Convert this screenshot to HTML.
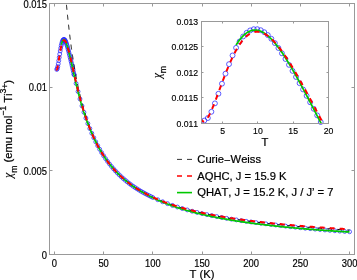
<!DOCTYPE html>
<html><head><meta charset="utf-8"><style>html,body{margin:0;padding:0;background:#fff;width:357px;height:280px;overflow:hidden}svg{display:block;position:absolute;left:0;top:0;will-change:transform}text{font-kerning:none}</style></head>
<body><svg width="357" height="280" viewBox="0 0 357 280"><defs><clipPath id="cm"><rect x="49.5" y="3.5" width="305" height="251"/></clipPath><clipPath id="ci"><rect x="201.5" y="21.5" width="127" height="102"/></clipPath></defs><rect width="357" height="280" fill="#fff"/><g fill="none" stroke="#2626ff" stroke-width="0.75"><circle cx="56.78" cy="69.46" r="1.95"/><circle cx="57.27" cy="68.64" r="1.95"/><circle cx="57.76" cy="66.59" r="1.95"/><circle cx="58.26" cy="63.83" r="1.95"/><circle cx="58.75" cy="60.68" r="1.95"/><circle cx="59.24" cy="57.38" r="1.95"/><circle cx="59.73" cy="54.09" r="1.95"/><circle cx="60.22" cy="50.96" r="1.95"/><circle cx="60.72" cy="48.11" r="1.95"/><circle cx="61.21" cy="45.61" r="1.95"/><circle cx="61.70" cy="43.53" r="1.95"/><circle cx="62.19" cy="41.88" r="1.95"/><circle cx="62.68" cy="40.67" r="1.95"/><circle cx="63.18" cy="39.88" r="1.95"/><circle cx="63.67" cy="39.49" r="1.95"/><circle cx="64.16" cy="39.48" r="1.95"/><circle cx="64.65" cy="39.82" r="1.95"/><circle cx="65.14" cy="40.48" r="1.95"/><circle cx="65.64" cy="41.43" r="1.95"/><circle cx="66.13" cy="42.63" r="1.95"/><circle cx="66.62" cy="44.05" r="1.95"/><circle cx="67.11" cy="45.66" r="1.95"/><circle cx="67.60" cy="47.41" r="1.95"/><circle cx="68.10" cy="49.27" r="1.95"/><circle cx="68.59" cy="51.20" r="1.95"/><circle cx="69.08" cy="53.17" r="1.95"/><circle cx="69.57" cy="55.17" r="1.95"/><circle cx="70.06" cy="57.21" r="1.95"/><circle cx="70.55" cy="59.27" r="1.95"/><circle cx="71.05" cy="61.36" r="1.95"/><circle cx="71.54" cy="63.47" r="1.95"/><circle cx="72.03" cy="65.61" r="1.95"/><circle cx="72.52" cy="67.77" r="1.95"/><circle cx="73.01" cy="69.95" r="1.95"/><circle cx="73.51" cy="72.14" r="1.95"/><circle cx="74.00" cy="74.35" r="1.95"/><circle cx="74.10" cy="74.79" r="1.95"/><circle cx="76.06" cy="83.50" r="1.95"/><circle cx="78.03" cy="91.54" r="1.95"/><circle cx="80.00" cy="99.01" r="1.95"/><circle cx="81.97" cy="105.90" r="1.95"/><circle cx="83.94" cy="112.26" r="1.95"/><circle cx="85.90" cy="118.13" r="1.95"/><circle cx="87.87" cy="123.55" r="1.95"/><circle cx="89.84" cy="128.60" r="1.95"/><circle cx="91.81" cy="133.30" r="1.95"/><circle cx="93.77" cy="137.72" r="1.95"/><circle cx="95.74" cy="141.85" r="1.95"/><circle cx="97.71" cy="145.69" r="1.95"/><circle cx="99.68" cy="149.27" r="1.95"/><circle cx="101.65" cy="152.62" r="1.95"/><circle cx="103.61" cy="155.74" r="1.95"/><circle cx="105.58" cy="158.67" r="1.95"/><circle cx="107.55" cy="161.42" r="1.95"/><circle cx="109.52" cy="164.01" r="1.95"/><circle cx="111.48" cy="166.45" r="1.95"/><circle cx="113.45" cy="168.75" r="1.95"/><circle cx="115.42" cy="170.93" r="1.95"/><circle cx="117.39" cy="173.00" r="1.95"/><circle cx="119.35" cy="174.96" r="1.95"/><circle cx="121.32" cy="176.81" r="1.95"/><circle cx="123.29" cy="178.58" r="1.95"/><circle cx="125.26" cy="180.26" r="1.95"/><circle cx="127.23" cy="181.86" r="1.95"/><circle cx="129.19" cy="183.39" r="1.95"/><circle cx="131.16" cy="184.85" r="1.95"/><circle cx="133.13" cy="186.25" r="1.95"/><circle cx="135.10" cy="187.58" r="1.95"/><circle cx="137.06" cy="188.86" r="1.95"/><circle cx="139.03" cy="190.08" r="1.95"/><circle cx="141.00" cy="191.26" r="1.95"/><circle cx="142.97" cy="192.38" r="1.95"/><circle cx="144.94" cy="193.48" r="1.95"/><circle cx="146.90" cy="194.54" r="1.95"/><circle cx="148.87" cy="195.56" r="1.95"/><circle cx="150.84" cy="196.54" r="1.95"/><circle cx="152.81" cy="197.49" r="1.95"/><circle cx="157.73" cy="199.72" r="1.95"/><circle cx="162.65" cy="201.76" r="1.95"/><circle cx="167.56" cy="203.65" r="1.95"/><circle cx="172.48" cy="205.40" r="1.95"/><circle cx="177.40" cy="207.02" r="1.95"/><circle cx="182.32" cy="208.53" r="1.95"/><circle cx="187.24" cy="209.91" r="1.95"/><circle cx="192.16" cy="211.21" r="1.95"/><circle cx="197.08" cy="212.42" r="1.95"/><circle cx="202.00" cy="213.56" r="1.95"/><circle cx="206.92" cy="214.63" r="1.95"/><circle cx="211.84" cy="215.63" r="1.95"/><circle cx="216.76" cy="216.58" r="1.95"/><circle cx="221.68" cy="217.48" r="1.95"/><circle cx="226.60" cy="218.33" r="1.95"/><circle cx="231.52" cy="219.14" r="1.95"/><circle cx="236.44" cy="219.91" r="1.95"/><circle cx="241.35" cy="220.64" r="1.95"/><circle cx="246.27" cy="221.33" r="1.95"/><circle cx="251.19" cy="222.00" r="1.95"/><circle cx="256.11" cy="222.63" r="1.95"/><circle cx="261.03" cy="223.24" r="1.95"/><circle cx="265.95" cy="223.84" r="1.95"/><circle cx="270.87" cy="224.43" r="1.95"/><circle cx="275.79" cy="225.01" r="1.95"/><circle cx="280.71" cy="225.57" r="1.95"/><circle cx="285.63" cy="226.12" r="1.95"/><circle cx="290.55" cy="226.66" r="1.95"/><circle cx="295.47" cy="227.19" r="1.95"/><circle cx="300.39" cy="227.70" r="1.95"/><circle cx="305.31" cy="228.20" r="1.95"/><circle cx="310.23" cy="228.67" r="1.95"/><circle cx="315.15" cy="229.12" r="1.95"/><circle cx="320.06" cy="229.55" r="1.95"/><circle cx="324.98" cy="229.96" r="1.95"/><circle cx="329.90" cy="230.36" r="1.95"/><circle cx="334.82" cy="230.73" r="1.95"/><circle cx="339.74" cy="231.09" r="1.95"/><circle cx="344.66" cy="231.42" r="1.95"/><circle cx="349.58" cy="231.73" r="1.95"/></g><g clip-path="url(#cm)"><path d="M59.34,-103.85 L59.40,-102.50 L59.46,-101.15 L59.52,-99.81 L59.59,-98.49 L59.65,-97.17 L59.71,-95.87 L59.77,-94.57 L59.83,-93.28 L59.89,-92.01 L59.96,-90.74 L60.02,-89.48 L60.08,-88.23 L60.14,-86.99 L60.20,-85.76 L60.26,-84.54 L60.33,-83.33 L60.39,-82.13 L60.45,-80.93 L60.51,-79.75 L60.57,-78.57 L60.63,-77.40 L60.69,-76.24 L60.76,-75.09 L60.82,-73.94 L60.88,-72.80 L60.94,-71.68 L61.00,-70.56 L61.06,-69.44 L61.13,-68.34 L61.19,-67.24 L61.25,-66.15 L61.31,-65.07 L61.37,-63.99 L61.43,-62.93 L61.50,-61.87 L61.56,-60.81 L61.62,-59.77 L61.68,-58.73 L61.74,-57.70 L61.80,-56.67 L61.87,-55.65 L61.93,-54.64 L61.99,-53.64 L62.05,-52.64 L62.11,-51.65 L62.17,-50.66 L62.24,-49.68 L62.30,-48.71 L62.36,-47.75 L62.42,-46.79 L62.48,-45.83 L62.54,-44.88 L62.61,-43.94 L62.67,-43.01 L62.73,-42.08 L62.79,-41.16 L62.85,-40.24 L62.91,-39.33 L62.98,-38.42 L63.04,-37.52 L63.10,-36.63 L63.16,-35.74 L63.22,-34.85 L63.28,-33.98 L63.35,-33.10 L63.41,-32.24 L63.47,-31.37 L63.53,-30.52 L63.59,-29.67 L63.65,-28.82 L63.72,-27.98 L63.78,-27.14 L63.84,-26.31 L63.90,-25.49 L63.96,-24.66 L64.02,-23.85 L64.09,-23.04 L64.15,-22.23 L64.21,-21.43 L64.27,-20.63 L64.33,-19.84 L64.39,-19.05 L64.46,-18.27 L64.52,-17.49 L64.58,-16.72 L64.64,-15.95 L64.70,-15.18 L64.76,-14.42 L64.83,-13.67 L64.89,-12.91 L64.95,-12.17 L65.01,-11.42 L65.07,-10.68 L65.13,-9.95 L65.20,-9.22 L65.26,-8.49 L65.32,-7.77 L65.38,-7.05 L65.44,-6.34 L65.50,-5.63 L65.56,-4.92 L65.63,-4.22 L65.69,-3.52 L65.75,-2.82 L65.81,-2.13 L65.87,-1.45 L65.93,-0.76 L66.00,-0.08 L66.06,0.59 L66.12,1.27 L66.18,1.93 L66.24,2.60 L66.30,3.26 L66.37,3.92 L66.43,4.57 L66.49,5.22 L66.55,5.87 L66.61,6.52 L66.67,7.16 L66.74,7.79 L66.80,8.43 L66.86,9.06 L66.92,9.69 L66.98,10.31 L67.04,10.93 L67.11,11.55 L67.17,12.16 L67.23,12.77 L67.29,13.38 L67.35,13.99 L67.41,14.59 L67.48,15.19 L67.54,15.78 L67.60,16.37 L67.66,16.96 L67.72,17.55 L67.78,18.13 L67.85,18.72 L67.91,19.29 L67.97,19.87 L68.03,20.44 L68.09,21.01 L68.15,21.58 L68.22,22.14 L68.28,22.70 L68.34,23.26 L68.40,23.81 L68.46,24.37 L68.52,24.91 L68.59,25.46 L68.65,26.01 L68.71,26.55 L68.77,27.09 L68.83,27.62 L68.89,28.16 L68.96,28.69 L69.02,29.22 L69.08,29.74 L69.14,30.27 L69.20,30.79 L69.26,31.31 L69.33,31.82 L69.39,32.34 L69.45,32.85 L69.51,33.36 L69.57,33.86 L69.63,34.37 L69.70,34.87 L69.76,35.37 L69.82,35.87 L69.88,36.36 L69.94,36.85 L70.00,37.34 L70.07,37.83 L70.13,38.32 L70.19,38.80 L70.25,39.28 L70.31,39.76 L70.37,40.24 L70.43,40.71 L70.50,41.19 L70.56,41.66 L70.62,42.13 L70.68,42.59 L70.74,43.06 L70.80,43.52 L70.87,43.98 L70.93,44.44 L70.99,44.89 L71.05,45.34 L71.11,45.80 L71.17,46.25 L71.24,46.69 L71.30,47.14 L71.36,47.58 L71.42,48.03 L71.48,48.47 L71.54,48.90 L71.61,49.34 L71.67,49.77 L71.73,50.21 L71.79,50.64 L71.85,51.06 L71.91,51.49 L71.98,51.92 L72.04,52.34 L72.10,52.76 L72.16,53.18 L72.22,53.60 L72.28,54.01 L72.35,54.43 L72.41,54.84 L72.47,55.25 L72.53,55.66 L72.59,56.07 L72.65,56.47 L72.72,56.88 L72.78,57.28 L72.84,57.68 L72.90,58.08 L72.96,58.47 L73.02,58.87 L73.09,59.26 L73.15,59.65 L73.21,60.04 L73.27,60.43 L73.33,60.82 L73.39,61.21 L73.46,61.59 L73.52,61.97 L73.58,62.35 L73.64,62.73 L73.70,63.11 L73.76,63.49 L73.83,63.86 L73.89,64.24 L73.95,64.61 L74.01,64.98 L74.07,65.35 L74.13,65.71 L74.20,66.08 L74.26,66.44 L74.32,66.81 L74.38,67.17 L74.44,67.53 L74.50,67.89 L74.57,68.24 L74.63,68.60 L74.69,68.95 L74.75,69.31 L74.81,69.66 L74.87,70.01 L74.94,70.36 L75.00,70.70 L75.06,71.05 L75.12,71.40 L75.18,71.74 L75.24,72.08 L75.31,72.42 L75.37,72.76 L75.43,73.10 L75.49,73.44 L75.55,73.77 L75.61,74.11 L75.67,74.44 L75.74,74.77 L75.80,75.10 L75.86,75.43 L75.92,75.76 L75.98,76.09 L76.04,76.41 L76.11,76.73 L76.17,77.06 L76.23,77.38 L76.29,77.70 L76.35,78.02 L76.41,78.34 L76.48,78.66 L76.54,78.97 L76.60,79.29 L76.66,79.60 L76.72,79.91 L76.78,80.22 L76.85,80.53 L76.91,80.84 L76.97,81.15 L77.03,81.46 L77.09,81.76 L77.15,82.07 L77.22,82.37 L77.28,82.67 L77.34,82.97 L77.40,83.27 L77.46,83.57 L77.52,83.87 L77.59,84.17 L77.65,84.46 L77.71,84.76 L77.77,85.05 L77.83,85.34 L77.89,85.63 L77.96,85.93 L78.02,86.21 L78.08,86.50 L78.14,86.79 L78.20,87.08 L78.26,87.36 L78.33,87.65 L78.39,87.93 L78.45,88.21 L78.51,88.49 L78.57,88.77 L78.63,89.05 L78.70,89.33 L78.76,89.61 L78.82,89.89 L78.88,90.16 L78.94,90.44 L79.00,90.71 L79.07,90.98 L79.13,91.25 L79.19,91.52 L79.25,91.79 L79.31,92.06 L79.37,92.33 L79.44,92.60 L79.50,92.86 L79.56,93.13 L79.62,93.39 L79.68,93.66 L79.74,93.92 L79.81,94.18 L79.87,94.44 L79.93,94.70 L79.99,94.96 L80.05,95.22 L80.11,95.48 L80.18,95.73 L80.24,95.99 L80.30,96.24 L80.36,96.50 L80.42,96.75 L80.48,97.00 L80.54,97.25 L80.61,97.51 L80.67,97.76 L80.73,98.00 L80.79,98.25 L80.85,98.50 L80.91,98.75 L80.98,98.99 L81.04,99.24 L81.10,99.48 L81.16,99.72 L81.22,99.97 L81.28,100.21 L81.35,100.45 L81.41,100.69 L81.47,100.93 L81.53,101.17 L81.59,101.40 L81.65,101.64 L81.72,101.88 L81.78,102.11 L81.84,102.35 L81.90,102.58 L81.96,102.81 L82.02,103.05 L82.09,103.28 L82.15,103.51 L82.21,103.74 L82.27,103.97 L82.33,104.20 L82.39,104.43 L82.46,104.65 L82.52,104.88 L82.58,105.11 L82.64,105.33 L82.70,105.56 L82.76,105.78 L82.83,106.00 L82.89,106.23 L82.95,106.45 L83.01,106.67 L83.07,106.89 L83.13,107.11 L83.20,107.33 L83.26,107.55 L83.32,107.76 L83.38,107.98 L83.44,108.20 L83.50,108.41 L83.57,108.63 L83.63,108.84 L83.69,109.05 L83.75,109.27 L83.81,109.48 L83.87,109.69 L83.94,109.90 L83.94,109.90 L84.82,112.88 L85.71,115.72 L86.60,118.45 L87.49,121.07 L88.38,123.59 L89.27,126.01 L90.15,128.34 L91.04,130.58 L91.93,132.74 L92.82,134.82 L93.71,136.82 L94.60,138.76 L95.49,140.63 L96.37,142.44 L97.26,144.19 L98.15,145.88 L99.04,147.52 L99.93,149.11 L100.82,150.65 L101.70,152.14 L102.59,153.58 L103.48,154.99 L104.37,156.35 L105.26,157.67 L106.15,158.96 L107.04,160.21 L107.92,161.43 L108.81,162.61 L109.70,163.76 L110.59,164.88 L111.48,165.97 L112.37,167.03 L113.25,168.07 L114.14,169.08 L115.03,170.07 L115.92,171.03 L116.81,171.96 L117.70,172.88 L118.58,173.77 L119.47,174.65 L120.36,175.50 L121.25,176.33 L122.14,177.15 L123.03,177.94 L123.92,178.72 L124.80,179.48 L125.69,180.23 L126.58,180.96 L127.47,181.67 L128.36,182.37 L129.25,183.05 L130.13,183.72 L131.02,184.38 L131.91,185.02 L132.80,185.66 L133.69,186.27 L134.58,186.88 L135.47,187.48 L136.35,188.06 L137.24,188.63 L138.13,189.19 L139.02,189.74 L139.91,190.28 L140.80,190.82 L141.68,191.34 L142.57,191.85 L143.46,192.35 L144.35,192.85 L145.24,193.33 L146.13,193.81 L147.02,194.28 L147.90,194.74 L148.79,195.19 L149.68,195.64 L150.57,196.08 L151.46,196.51 L152.35,196.93 L153.23,197.35 L154.12,197.76 L155.01,198.16 L155.90,198.56 L156.79,198.95 L157.68,199.34 L158.56,199.72 L159.45,200.09 L160.34,200.46 L161.23,200.82 L162.12,201.18 L163.01,201.53 L163.90,201.88 L164.78,202.22 L165.67,202.55 L166.56,202.88 L167.45,203.21 L168.34,203.53 L169.23,203.85 L170.11,204.16 L171.00,204.47 L171.89,204.78 L172.78,205.08 L173.67,205.37 L174.56,205.67 L175.45,205.95 L176.33,206.24 L177.22,206.52 L178.11,206.80 L179.00,207.07 L179.89,207.34 L180.78,207.61 L181.66,207.87 L182.55,208.13 L183.44,208.38 L184.33,208.64 L185.22,208.89 L186.11,209.13 L187.00,209.38 L187.88,209.62 L188.77,209.86 L189.66,210.09 L190.55,210.32 L191.44,210.55 L192.33,210.78 L193.21,211.00 L194.10,211.22 L194.99,211.44 L195.88,211.66 L196.77,211.87 L197.66,212.08 L198.54,212.29 L199.43,212.50 L200.32,212.70 L201.21,212.90 L202.10,213.10 L202.99,213.30 L203.88,213.49 L204.76,213.69 L205.65,213.88 L206.54,214.07 L207.43,214.25 L208.32,214.44 L209.21,214.62 L210.09,214.80 L210.98,214.98 L211.87,215.16 L212.76,215.33 L213.65,215.50 L214.54,215.67 L215.43,215.84 L216.31,216.01 L217.20,216.18 L218.09,216.34 L218.98,216.51 L219.87,216.67 L220.76,216.83 L221.64,216.98 L222.53,217.14 L223.42,217.30 L224.31,217.45 L225.20,217.60 L226.09,217.75 L226.98,217.90 L227.86,218.05 L228.75,218.19 L229.64,218.34 L230.53,218.48 L231.42,218.62 L232.31,218.76 L233.19,218.90 L234.08,219.04 L234.97,219.18 L235.86,219.31 L236.75,219.45 L237.64,219.58 L238.52,219.71 L239.41,219.84 L240.30,219.97 L241.19,220.10 L242.08,220.23 L242.97,220.35 L243.86,220.48 L244.74,220.60 L245.63,220.72 L246.52,220.85 L247.41,220.97 L248.30,221.09 L249.19,221.20 L250.07,221.32 L250.96,221.44 L251.85,221.55 L252.74,221.67 L253.63,221.78 L254.52,221.89 L255.41,222.00 L256.29,222.12 L257.18,222.23 L258.07,222.33 L258.96,222.44 L259.85,222.55 L260.74,222.66 L261.62,222.76 L262.51,222.86 L263.40,222.97 L264.29,223.07 L265.18,223.17 L266.07,223.27 L266.96,223.37 L267.84,223.47 L268.73,223.57 L269.62,223.67 L270.51,223.77 L271.40,223.86 L272.29,223.96 L273.17,224.05 L274.06,224.15 L274.95,224.24 L275.84,224.34 L276.73,224.43 L277.62,224.52 L278.51,224.61 L279.39,224.70 L280.28,224.79 L281.17,224.88 L282.06,224.97 L282.95,225.05 L283.84,225.14 L284.72,225.23 L285.61,225.31 L286.50,225.40 L287.39,225.48 L288.28,225.56 L289.17,225.65 L290.05,225.73 L290.94,225.81 L291.83,225.89 L292.72,225.97 L293.61,226.05 L294.50,226.13 L295.39,226.21 L296.27,226.29 L297.16,226.37 L298.05,226.44 L298.94,226.52 L299.83,226.60 L300.72,226.67 L301.60,226.75 L302.49,226.82 L303.38,226.90 L304.27,226.97 L305.16,227.04 L306.05,227.12 L306.94,227.19 L307.82,227.26 L308.71,227.33 L309.60,227.40 L310.49,227.47 L311.38,227.54 L312.27,227.61 L313.15,227.68 L314.04,227.75 L314.93,227.82 L315.82,227.88 L316.71,227.95 L317.60,228.02 L318.49,228.08 L319.37,228.15 L320.26,228.21 L321.15,228.28 L322.04,228.34 L322.93,228.41 L323.82,228.47 L324.70,228.53 L325.59,228.60 L326.48,228.66 L327.37,228.72 L328.26,228.78 L329.15,228.85 L330.03,228.91 L330.92,228.97 L331.81,229.03 L332.70,229.09 L333.59,229.15 L334.48,229.21 L335.37,229.26 L336.25,229.32 L337.14,229.38 L338.03,229.44 L338.92,229.50 L339.81,229.55 L340.70,229.61 L341.58,229.67 L342.47,229.72 L343.36,229.78 L344.25,229.83 L345.14,229.89 L346.03,229.94 L346.92,230.00 L347.80,230.05 L348.69,230.10 L349.58,230.16" fill="none" stroke="#000" stroke-width="1.0" stroke-dasharray="5,5" stroke-dashoffset="1.1"/><path d="M61.21,44.68 L61.28,44.40 L61.36,44.13 L61.44,43.87 L61.51,43.61 L61.59,43.36 L61.66,43.12 L61.74,42.89 L61.82,42.67 L61.89,42.46 L61.97,42.25 L62.04,42.05 L62.12,41.86 L62.20,41.68 L62.27,41.51 L62.35,41.34 L62.42,41.19 L62.50,41.04 L62.58,40.90 L62.65,40.77 L62.73,40.64 L62.80,40.53 L62.88,40.42 L62.96,40.32 L63.03,40.24 L63.11,40.15 L63.18,40.08 L63.26,40.01 L63.34,39.96 L63.41,39.91 L63.49,39.87 L63.56,39.83 L63.64,39.81 L63.72,39.79 L63.79,39.78 L63.87,39.78 L63.94,39.78 L64.02,39.79 L64.10,39.81 L64.17,39.84 L64.25,39.87 L64.32,39.91 L64.40,39.96 L64.48,40.02 L64.55,40.08 L64.63,40.15 L64.70,40.22 L64.78,40.30 L64.86,40.39 L64.93,40.49 L65.01,40.59 L65.08,40.69 L65.16,40.81 L65.24,40.93 L65.31,41.05 L65.39,41.18 L65.46,41.32 L65.54,41.46 L65.62,41.61 L65.69,41.76 L65.77,41.92 L65.84,42.09 L65.92,42.26 L66.00,42.43 L66.07,42.61 L66.15,42.80 L66.22,42.98 L66.30,43.18 L66.38,43.38 L66.45,43.58 L66.53,43.79 L66.60,44.00 L66.68,44.21 L66.76,44.43 L66.83,44.66 L66.91,44.89 L66.98,45.12 L67.06,45.36 L67.14,45.60 L67.21,45.84 L67.29,46.09 L67.36,46.34 L67.44,46.59 L67.52,46.85 L67.59,47.11 L67.67,47.37 L67.75,47.64 L67.82,47.91 L67.90,48.18 L67.97,48.46 L68.05,48.73 L68.13,49.02 L68.20,49.30 L68.28,49.59 L68.35,49.87 L68.43,50.17 L68.51,50.46 L68.58,50.76 L68.66,51.05 L68.73,51.35 L68.81,51.66 L68.89,51.96 L68.96,52.27 L69.04,52.58 L69.11,52.89 L69.19,53.20 L69.27,53.51 L69.34,53.83 L69.42,54.14 L69.49,54.46 L69.57,54.78 L69.65,55.11 L69.72,55.43 L69.80,55.75 L69.87,56.08 L69.95,56.41 L70.03,56.73 L70.10,57.06 L70.18,57.39 L70.25,57.73 L70.33,58.06 L70.41,58.39 L70.48,58.73 L70.56,59.06 L70.63,59.40 L70.71,59.74 L70.79,60.07 L70.86,60.41 L70.94,60.75 L71.01,61.09 L71.09,61.43 L71.17,61.77 L71.24,62.12 L71.32,62.46 L71.39,62.80 L71.47,63.14 L71.55,63.49 L71.62,63.83 L71.70,64.18 L71.77,64.52 L71.85,64.87 L71.93,65.21 L72.00,65.56 L72.08,65.90 L72.15,66.25 L72.23,66.59 L72.31,66.94 L72.38,67.28 L72.46,67.63 L72.53,67.98 L72.61,68.32 L72.69,68.67 L72.76,69.01 L72.84,69.36 L72.91,69.70 L72.99,70.05 L73.07,70.39 L73.14,70.74 L73.22,71.08 L73.29,71.42 L73.37,71.77 L73.45,72.11 L73.52,72.45 L73.60,72.79 L73.67,73.14 L73.75,73.48 L73.83,73.82 L73.90,74.16 L73.98,74.50 L74.05,74.84 L74.13,75.18 L74.21,75.52 L74.28,75.86 L74.36,76.19 L74.43,76.53 L74.51,76.87 L74.59,77.20 L74.66,77.54 L74.74,77.87 L74.81,78.21 L74.89,78.54 L74.97,78.88 L75.04,79.21 L75.12,79.54 L75.19,79.87 L75.27,80.20 L75.35,80.53 L75.42,80.86 L75.50,81.19 L75.57,81.51 L75.65,81.84 L75.73,82.17 L75.80,82.49 L75.88,82.82 L75.95,83.14 L76.03,83.46 L76.11,83.79 L76.18,84.11 L76.26,84.43 L76.33,84.75 L76.41,85.07 L76.49,85.39 L76.56,85.70 L76.64,86.02 L76.71,86.34 L76.79,86.65 L76.87,86.97 L76.94,87.28 L77.02,87.59 L77.09,87.90 L77.17,88.21 L77.25,88.53 L77.32,88.83 L77.40,89.14 L77.47,89.45 L77.55,89.76 L77.63,90.06 L77.70,90.37 L77.78,90.67 L77.85,90.97 L77.93,91.28 L78.01,91.58 L78.08,91.88 L78.16,92.18 L78.23,92.48 L78.31,92.78 L78.39,93.07 L78.46,93.37 L78.54,93.66 L78.61,93.96 L78.69,94.25 L78.77,94.55 L78.84,94.84 L78.92,95.13 L78.99,95.42 L79.07,95.71 L79.15,96.00 L79.22,96.28 L79.30,96.57 L79.37,96.85 L79.45,97.14 L79.53,97.42 L79.60,97.71 L79.68,97.99 L79.75,98.27 L79.83,98.55 L79.91,98.83 L79.98,99.11 L80.06,99.39 L80.13,99.66 L80.21,99.94 L80.29,100.21 L80.36,100.49 L80.44,100.76 L80.51,101.03 L80.59,101.30 L80.67,101.57 L80.74,101.84 L80.82,102.11 L80.90,102.38 L80.97,102.65 L81.05,102.91 L81.12,103.18 L81.20,103.44 L81.28,103.71 L81.35,103.97 L81.43,104.23 L81.50,104.49 L81.58,104.75 L81.66,105.01 L81.73,105.27 L81.81,105.53 L81.88,105.79 L81.96,106.04 L82.04,106.30 L82.11,106.55 L82.19,106.81 L82.26,107.06 L82.34,107.31 L82.42,107.56 L82.49,107.81 L82.57,108.06 L82.64,108.31 L82.72,108.56 L82.80,108.81 L82.87,109.05 L82.95,109.30 L83.02,109.54 L83.10,109.79 L83.18,110.03 L83.25,110.27 L83.33,110.51 L83.40,110.75 L83.48,110.99 L83.56,111.23 L83.63,111.47 L83.71,111.71 L83.78,111.95 L83.86,112.18 L83.94,112.42 L83.94,112.42 L84.82,115.11 L85.71,117.71 L86.60,120.22 L87.49,122.63 L88.38,124.97 L89.27,127.23 L90.15,129.42 L91.04,131.54 L91.93,133.61 L92.82,135.62 L93.71,137.58 L94.60,139.48 L95.49,141.33 L96.37,143.11 L97.26,144.84 L98.15,146.52 L99.04,148.14 L99.93,149.71 L100.82,151.23 L101.70,152.71 L102.59,154.15 L103.48,155.54 L104.37,156.89 L105.26,158.21 L106.15,159.48 L107.04,160.72 L107.92,161.93 L108.81,163.10 L109.70,164.25 L110.59,165.36 L111.48,166.44 L112.37,167.50 L113.25,168.52 L114.14,169.53 L115.03,170.52 L115.92,171.48 L116.81,172.42 L117.70,173.33 L118.58,174.23 L119.47,175.10 L120.36,175.95 L121.25,176.79 L122.14,177.60 L123.03,178.40 L123.92,179.18 L124.80,179.94 L125.69,180.69 L126.58,181.41 L127.47,182.13 L128.36,182.83 L129.25,183.51 L130.13,184.18 L131.02,184.84 L131.91,185.48 L132.80,186.11 L133.69,186.73 L134.58,187.34 L135.47,187.93 L136.35,188.52 L137.24,189.09 L138.13,189.65 L139.02,190.20 L139.91,190.74 L140.80,191.28 L141.68,191.80 L142.57,192.31 L143.46,192.82 L144.35,193.33 L145.24,193.83 L146.13,194.32 L147.02,194.80 L147.90,195.28 L148.79,195.74 L149.68,196.20 L150.57,196.66 L151.46,197.10 L152.35,197.54 L153.23,197.97 L154.12,198.40 L155.01,198.82 L155.90,199.23 L156.79,199.63 L157.68,200.03 L158.56,200.43 L159.45,200.81 L160.34,201.20 L161.23,201.57 L162.12,201.95 L163.01,202.31 L163.90,202.67 L164.78,203.03 L165.67,203.38 L166.56,203.73 L167.45,204.07 L168.34,204.41 L169.23,204.74 L170.11,205.07 L171.00,205.39 L171.89,205.71 L172.78,206.03 L173.67,206.34 L174.56,206.65 L175.45,206.95 L176.33,207.25 L177.22,207.55 L178.11,207.84 L179.00,208.13 L179.89,208.41 L180.78,208.70 L181.66,208.97 L182.55,209.25 L183.44,209.51 L184.33,209.77 L185.22,210.03 L186.11,210.28 L187.00,210.53 L187.88,210.78 L188.77,211.03 L189.66,211.27 L190.55,211.51 L191.44,211.74 L192.33,211.98 L193.21,212.21 L194.10,212.44 L194.99,212.66 L195.88,212.89 L196.77,213.11 L197.66,213.33 L198.54,213.54 L199.43,213.76 L200.32,213.97 L201.21,214.18 L202.10,214.39 L202.99,214.59 L203.88,214.79 L204.76,214.99 L205.65,215.18 L206.54,215.38 L207.43,215.57 L208.32,215.76 L209.21,215.95 L210.09,216.13 L210.98,216.32 L211.87,216.50 L212.76,216.68 L213.65,216.86 L214.54,217.04 L215.43,217.21 L216.31,217.39 L217.20,217.56 L218.09,217.73 L218.98,217.90 L219.87,218.06 L220.76,218.23 L221.64,218.39 L222.53,218.56 L223.42,218.72 L224.31,218.88 L225.20,219.03 L226.09,219.19 L226.98,219.35 L227.86,219.50 L228.75,219.65 L229.64,219.80 L230.53,219.95 L231.42,220.10 L232.31,220.25 L233.19,220.39 L234.08,220.54 L234.97,220.68 L235.86,220.82 L236.75,220.97 L237.64,221.11 L238.52,221.24 L239.41,221.38 L240.30,221.52 L241.19,221.65 L242.08,221.79 L242.97,221.92 L243.86,222.05 L244.74,222.18 L245.63,222.31 L246.52,222.44 L247.41,222.57 L248.30,222.69 L249.19,222.82 L250.07,222.94 L250.96,223.07 L251.85,223.19 L252.74,223.30 L253.63,223.42 L254.52,223.54 L255.41,223.65 L256.29,223.76 L257.18,223.88 L258.07,223.99 L258.96,224.10 L259.85,224.21 L260.74,224.32 L261.62,224.43 L262.51,224.53 L263.40,224.64 L264.29,224.75 L265.18,224.85 L266.07,224.96 L266.96,225.06 L267.84,225.16 L268.73,225.26 L269.62,225.37 L270.51,225.47 L271.40,225.57 L272.29,225.67 L273.17,225.76 L274.06,225.86 L274.95,225.96 L275.84,226.05 L276.73,226.15 L277.62,226.25 L278.51,226.34 L279.39,226.43 L280.28,226.53 L281.17,226.62 L282.06,226.71 L282.95,226.80 L283.84,226.89 L284.72,226.98 L285.61,227.07 L286.50,227.16 L287.39,227.25 L288.28,227.33 L289.17,227.42 L290.05,227.51 L290.94,227.59 L291.83,227.68 L292.72,227.76 L293.61,227.85 L294.50,227.93 L295.39,228.01 L296.27,228.09 L297.16,228.18 L298.05,228.26 L298.94,228.34 L299.83,228.42 L300.72,228.50 L301.60,228.58 L302.49,228.66 L303.38,228.73 L304.27,228.81 L305.16,228.89 L306.05,228.96 L306.94,229.03 L307.82,229.10 L308.71,229.17 L309.60,229.24 L310.49,229.31 L311.38,229.38 L312.27,229.45 L313.15,229.52 L314.04,229.59 L314.93,229.66 L315.82,229.72 L316.71,229.79 L317.60,229.86 L318.49,229.92 L319.37,229.99 L320.26,230.05 L321.15,230.12 L322.04,230.18 L322.93,230.25 L323.82,230.31 L324.70,230.37 L325.59,230.44 L326.48,230.50 L327.37,230.56 L328.26,230.62 L329.15,230.68 L330.03,230.74 L330.92,230.80 L331.81,230.86 L332.70,230.92 L333.59,230.98 L334.48,231.04 L335.37,231.10 L336.25,231.16 L337.14,231.22 L338.03,231.28 L338.92,231.33 L339.81,231.39 L340.70,231.45 L341.58,231.50 L342.47,231.56 L343.36,231.61 L344.25,231.67 L345.14,231.72 L346.03,231.78 L346.92,231.83 L347.80,231.89 L348.69,231.94 L349.58,232.00" fill="none" stroke="#00c800" stroke-width="1.7"/><path d="M56.39,69.33 L56.46,69.51 L56.53,69.64 L56.59,69.71 L56.66,69.74 L56.73,69.72 L56.80,69.66 L56.87,69.57 L56.94,69.44 L57.01,69.29 L57.08,69.10 L57.15,68.90 L57.22,68.66 L57.28,68.41 L57.35,68.14 L57.42,67.84 L57.49,67.54 L57.56,67.21 L57.63,66.88 L57.70,66.53 L57.77,66.16 L57.84,65.79 L57.91,65.41 L57.98,65.02 L58.04,64.62 L58.11,64.22 L58.18,63.81 L58.25,63.39 L58.32,62.97 L58.39,62.54 L58.46,62.11 L58.53,61.68 L58.60,61.24 L58.67,60.81 L58.73,60.37 L58.80,59.93 L58.87,59.49 L58.94,59.05 L59.01,58.61 L59.08,58.17 L59.15,57.73 L59.22,57.29 L59.29,56.86 L59.36,56.42 L59.43,55.99 L59.49,55.56 L59.56,55.14 L59.63,54.72 L59.70,54.30 L59.77,53.88 L59.84,53.47 L59.91,53.07 L59.98,52.66 L60.05,52.27 L60.12,51.87 L60.18,51.48 L60.25,51.10 L60.32,50.72 L60.39,50.35 L60.46,49.99 L60.53,49.63 L60.60,49.27 L60.67,48.92 L60.74,48.58 L60.81,48.24 L60.87,47.91 L60.94,47.59 L61.01,47.27 L61.08,46.96 L61.15,46.66 L61.22,46.36 L61.29,46.08 L61.36,45.79 L61.43,45.52 L61.50,45.25 L61.57,44.99 L61.63,44.73 L61.70,44.49 L61.77,44.25 L61.84,44.01 L61.91,43.79 L61.98,43.57 L62.05,43.36 L62.12,43.15 L62.19,42.96 L62.26,42.77 L62.32,42.59 L62.39,42.41 L62.46,42.24 L62.53,42.08 L62.60,41.93 L62.67,41.79 L62.74,41.65 L62.81,41.52 L62.88,41.39 L62.95,41.28 L63.02,41.17 L63.08,41.06 L63.15,40.97 L63.22,40.88 L63.29,40.80 L63.36,40.72 L63.43,40.65 L63.50,40.59 L63.57,40.54 L63.64,40.49 L63.71,40.45 L63.77,40.41 L63.84,40.38 L63.91,40.36 L63.98,40.35 L64.05,40.34 L64.12,40.33 L64.19,40.34 L64.26,40.35 L64.33,40.36 L64.40,40.38 L64.47,40.41 L64.53,40.44 L64.60,40.48 L64.67,40.53 L64.74,40.58 L64.81,40.63 L64.88,40.69 L64.95,40.76 L65.02,40.83 L65.09,40.91 L65.16,40.99 L65.22,41.08 L65.29,41.17 L65.36,41.27 L65.43,41.37 L65.50,41.48 L65.57,41.59 L65.64,41.71 L65.71,41.83 L65.78,41.96 L65.85,42.09 L65.92,42.23 L65.98,42.37 L66.05,42.51 L66.12,42.66 L66.19,42.81 L66.26,42.97 L66.33,43.13 L66.40,43.29 L66.47,43.46 L66.54,43.63 L66.61,43.81 L66.67,43.99 L66.74,44.17 L66.81,44.36 L66.88,44.55 L66.95,44.74 L67.02,44.94 L67.09,45.14 L67.16,45.34 L67.23,45.55 L67.30,45.76 L67.37,45.97 L67.43,46.18 L67.50,46.40 L67.57,46.62 L67.64,46.85 L67.71,47.07 L67.78,47.30 L67.85,47.53 L67.92,47.77 L67.99,48.01 L68.06,48.25 L68.12,48.49 L68.19,48.73 L68.26,48.98 L68.33,49.23 L68.40,49.48 L68.47,49.73 L68.54,49.98 L68.61,50.24 L68.68,50.50 L68.75,50.76 L68.81,51.02 L68.88,51.29 L68.95,51.55 L69.02,51.82 L69.09,52.09 L69.16,52.36 L69.23,52.63 L69.30,52.91 L69.37,53.18 L69.44,53.46 L69.51,53.74 L69.57,54.02 L69.64,54.30 L69.71,54.58 L69.78,54.86 L69.85,55.15 L69.92,55.43 L69.99,55.72 L70.06,56.01 L70.13,56.30 L70.20,56.59 L70.26,56.88 L70.33,57.17 L70.40,57.46 L70.47,57.76 L70.54,58.05 L70.61,58.35 L70.68,58.64 L70.75,58.94 L70.82,59.24 L70.89,59.54 L70.96,59.84 L71.02,60.13 L71.09,60.43 L71.16,60.74 L71.23,61.04 L71.30,61.34 L71.37,61.64 L71.44,61.94 L71.51,62.25 L71.58,62.55 L71.65,62.85 L71.71,63.16 L71.78,63.46 L71.85,63.77 L71.92,64.07 L71.99,64.38 L72.06,64.68 L72.13,64.99 L72.20,65.30 L72.27,65.60 L72.34,65.91 L72.41,66.21 L72.47,66.52 L72.54,66.83 L72.61,67.13 L72.68,67.44 L72.75,67.75 L72.82,68.05 L72.89,68.36 L72.96,68.67 L73.03,68.98 L73.10,69.28 L73.16,69.59 L73.23,69.89 L73.30,70.20 L73.37,70.51 L73.44,70.81 L73.51,71.12 L73.58,71.43 L73.65,71.73 L73.72,72.04 L73.79,72.34 L73.86,72.65 L73.92,72.95 L73.99,73.26 L74.06,73.56 L74.13,73.87 L74.20,74.17 L74.27,74.47 L74.34,74.78 L74.41,75.08 L74.48,75.38 L74.55,75.68 L74.61,75.99 L74.68,76.29 L74.75,76.59 L74.82,76.89 L74.89,77.19 L74.96,77.49 L75.03,77.79 L75.10,78.09 L75.17,78.39 L75.24,78.69 L75.31,78.98 L75.37,79.28 L75.44,79.58 L75.51,79.88 L75.58,80.17 L75.65,80.47 L75.72,80.76 L75.79,81.06 L75.86,81.35 L75.93,81.65 L76.00,81.94 L76.06,82.23 L76.13,82.53 L76.20,82.82 L76.27,83.11 L76.34,83.40 L76.41,83.69 L76.48,83.98 L76.55,84.27 L76.62,84.56 L76.69,84.84 L76.75,85.13 L76.82,85.42 L76.89,85.71 L76.96,85.99 L77.03,86.28 L77.10,86.56 L77.17,86.84 L77.24,87.13 L77.31,87.41 L77.38,87.69 L77.45,87.98 L77.51,88.26 L77.58,88.54 L77.65,88.82 L77.72,89.10 L77.79,89.37 L77.86,89.65 L77.93,89.93 L78.00,90.21 L78.07,90.48 L78.14,90.76 L78.20,91.03 L78.27,91.31 L78.34,91.58 L78.41,91.85 L78.48,92.13 L78.55,92.40 L78.62,92.67 L78.69,92.94 L78.76,93.21 L78.83,93.48 L78.90,93.75 L78.96,94.02 L79.03,94.28 L79.10,94.55 L79.17,94.82 L79.24,95.08 L79.31,95.35 L79.38,95.61 L79.45,95.87 L79.52,96.14 L79.59,96.40 L79.65,96.66 L79.72,96.92 L79.79,97.18 L79.86,97.44 L79.93,97.70 L80.00,97.96 L80.07,98.22 L80.14,98.47 L80.21,98.73 L80.28,98.98 L80.35,99.24 L80.41,99.49 L80.48,99.75 L80.55,100.00 L80.62,100.25 L80.69,100.50 L80.76,100.75 L80.83,101.00 L80.90,101.25 L80.97,101.50 L81.04,101.75 L81.10,102.00 L81.17,102.25 L81.24,102.49 L81.31,102.74 L81.38,102.98 L81.45,103.23 L81.52,103.47 L81.59,103.72 L81.66,103.96 L81.73,104.20 L81.80,104.44 L81.86,104.68 L81.93,104.92 L82.00,105.16 L82.07,105.40 L82.14,105.64 L82.21,105.88 L82.28,106.11 L82.35,106.35 L82.42,106.58 L82.49,106.82 L82.55,107.05 L82.62,107.29 L82.69,107.52 L82.76,107.75 L82.83,107.98 L82.90,108.22 L82.97,108.45 L83.04,108.68 L83.11,108.90 L83.18,109.13 L83.25,109.36 L83.31,109.59 L83.38,109.82 L83.45,110.04 L83.52,110.27 L83.59,110.49 L83.66,110.72 L83.73,110.94 L83.80,111.16 L83.87,111.38 L83.94,111.61 L83.94,111.61 L84.82,114.41 L85.71,117.11 L86.60,119.71 L87.49,122.23 L88.38,124.66 L89.27,127.00 L90.15,129.27 L91.04,131.45 L91.93,133.56 L92.82,135.60 L93.71,137.58 L94.60,139.48 L95.49,141.33 L96.37,143.11 L97.26,144.84 L98.15,146.52 L99.04,148.14 L99.93,149.71 L100.82,151.23 L101.70,152.71 L102.59,154.15 L103.48,155.54 L104.37,156.89 L105.26,158.21 L106.15,159.48 L107.04,160.72 L107.92,161.93 L108.81,163.10 L109.70,164.25 L110.59,165.36 L111.48,166.44 L112.37,167.50 L113.25,168.52 L114.14,169.53 L115.03,170.50 L115.92,171.45 L116.81,172.38 L117.70,173.29 L118.58,174.18 L119.47,175.04 L120.36,175.88 L121.25,176.71 L122.14,177.51 L123.03,178.30 L123.92,179.07 L124.80,179.82 L125.69,180.56 L126.58,181.28 L127.47,181.99 L128.36,182.68 L129.25,183.35 L130.13,184.01 L131.02,184.66 L131.91,185.30 L132.80,185.92 L133.69,186.53 L134.58,187.12 L135.47,187.71 L136.35,188.29 L137.24,188.85 L138.13,189.40 L139.02,189.94 L139.91,190.48 L140.80,191.00 L141.68,191.51 L142.57,192.01 L143.46,192.51 L144.35,192.99 L145.24,193.47 L146.13,193.94 L147.02,194.40 L147.90,194.85 L148.79,195.30 L149.68,195.73 L150.57,196.16 L151.46,196.59 L152.35,197.00 L153.23,197.41 L154.12,197.81 L155.01,198.21 L155.90,198.60 L156.79,198.98 L157.68,199.36 L158.56,199.73 L159.45,200.10 L160.34,200.46 L161.23,200.81 L162.12,201.16 L163.01,201.50 L163.90,201.84 L164.78,202.18 L165.67,202.50 L166.56,202.83 L167.45,203.15 L168.34,203.46 L169.23,203.77 L170.11,204.08 L171.00,204.38 L171.89,204.68 L172.78,204.97 L173.67,205.26 L174.56,205.54 L175.45,205.83 L176.33,206.10 L177.22,206.38 L178.11,206.65 L179.00,206.91 L179.89,207.18 L180.78,207.44 L181.66,207.69 L182.55,207.94 L183.44,208.19 L184.33,208.44 L185.22,208.68 L186.11,208.92 L187.00,209.16 L187.88,209.40 L188.77,209.63 L189.66,209.86 L190.55,210.08 L191.44,210.30 L192.33,210.52 L193.21,210.74 L194.10,210.96 L194.99,211.17 L195.88,211.38 L196.77,211.59 L197.66,211.79 L198.54,212.00 L199.43,212.20 L200.32,212.39 L201.21,212.59 L202.10,212.78 L202.99,212.98 L203.88,213.17 L204.76,213.35 L205.65,213.54 L206.54,213.72 L207.43,213.90 L208.32,214.08 L209.21,214.26 L210.09,214.43 L210.98,214.61 L211.87,214.78 L212.76,214.95 L213.65,215.12 L214.54,215.28 L215.43,215.45 L216.31,215.61 L217.20,215.77 L218.09,215.93 L218.98,216.09 L219.87,216.25 L220.76,216.40 L221.64,216.55 L222.53,216.71 L223.42,216.86 L224.31,217.00 L225.20,217.15 L226.09,217.30 L226.98,217.44 L227.86,217.59 L228.75,217.73 L229.64,217.87 L230.53,218.01 L231.42,218.14 L232.31,218.28 L233.19,218.41 L234.08,218.55 L234.97,218.68 L235.86,218.81 L236.75,218.94 L237.64,219.07 L238.52,219.20 L239.41,219.32 L240.30,219.45 L241.19,219.57 L242.08,219.70 L242.97,219.82 L243.86,219.94 L244.74,220.06 L245.63,220.18 L246.52,220.30 L247.41,220.41 L248.30,220.53 L249.19,220.64 L250.07,220.76 L250.96,220.87 L251.85,220.98 L252.74,221.09 L253.63,221.20 L254.52,221.31 L255.41,221.42 L256.29,221.53 L257.18,221.63 L258.07,221.74 L258.96,221.84 L259.85,221.95 L260.74,222.05 L261.62,222.15 L262.51,222.25 L263.40,222.35 L264.29,222.45 L265.18,222.55 L266.07,222.65 L266.96,222.74 L267.84,222.84 L268.73,222.94 L269.62,223.03 L270.51,223.12 L271.40,223.22 L272.29,223.31 L273.17,223.40 L274.06,223.49 L274.95,223.58 L275.84,223.67 L276.73,223.76 L277.62,223.85 L278.51,223.94 L279.39,224.02 L280.28,224.11 L281.17,224.20 L282.06,224.28 L282.95,224.37 L283.84,224.45 L284.72,224.53 L285.61,224.62 L286.50,224.70 L287.39,224.78 L288.28,224.86 L289.17,224.94 L290.05,225.02 L290.94,225.10 L291.83,225.18 L292.72,225.25 L293.61,225.33 L294.50,225.41 L295.39,225.49 L296.27,225.56 L297.16,225.64 L298.05,225.71 L298.94,225.78 L299.83,225.86 L300.72,225.93 L301.60,226.00 L302.49,226.08 L303.38,226.15 L304.27,226.22 L305.16,226.29 L306.05,226.36 L306.94,226.43 L307.82,226.50 L308.71,226.57 L309.60,226.64 L310.49,226.70 L311.38,226.77 L312.27,226.84 L313.15,226.90 L314.04,226.97 L314.93,227.04 L315.82,227.10 L316.71,227.17 L317.60,227.23 L318.49,227.29 L319.37,227.36 L320.26,227.42 L321.15,227.48 L322.04,227.54 L322.93,227.61 L323.82,227.67 L324.70,227.73 L325.59,227.79 L326.48,227.85 L327.37,227.91 L328.26,227.97 L329.15,228.03 L330.03,228.09 L330.92,228.15 L331.81,228.20 L332.70,228.26 L333.59,228.32 L334.48,228.38 L335.37,228.43 L336.25,228.49 L337.14,228.55 L338.03,228.60 L338.92,228.66 L339.81,228.71 L340.70,228.77 L341.58,228.82 L342.47,228.87 L343.36,228.93 L344.25,228.98 L345.14,229.03 L346.03,229.09 L346.92,229.14 L347.80,229.19 L348.69,229.24 L349.58,229.30" fill="none" stroke="#ff0000" stroke-width="2.0" stroke-dasharray="5,5"/></g><g stroke="#999" stroke-width="1" fill="none"><rect x="49.5" y="3.5" width="305" height="251"/><path d="M54.5,254.5 V251.5 M54.5,3.5 V6.5"/><path d="M103.5,254.5 V251.5 M103.5,3.5 V6.5"/><path d="M152.5,254.5 V251.5 M152.5,3.5 V6.5"/><path d="M202.5,254.5 V251.5 M202.5,3.5 V6.5"/><path d="M251.5,254.5 V251.5 M251.5,3.5 V6.5"/><path d="M300.5,254.5 V251.5 M300.5,3.5 V6.5"/><path d="M349.5,254.5 V251.5 M349.5,3.5 V6.5"/><path d="M49.5,254.5 H52.5 M354.5,254.5 H351.5"/><path d="M49.5,170.5 H52.5 M354.5,170.5 H351.5"/><path d="M49.5,87.5 H52.5 M354.5,87.5 H351.5"/><path d="M49.5,3.5 H52.5 M354.5,3.5 H351.5"/></g><g font-family='"Liberation Sans", sans-serif' font-size="10.0" fill="#000" stroke="#000" stroke-width="0.18"><text transform="translate(54.42,266.7) scale(0.94,1)" text-anchor="middle">0</text><text transform="translate(103.61,266.7) scale(0.94,1)" text-anchor="middle">50</text><text transform="translate(152.81,266.7) scale(0.94,1)" text-anchor="middle">100</text><text transform="translate(202.00,266.7) scale(0.94,1)" text-anchor="middle">150</text><text transform="translate(251.19,266.7) scale(0.94,1)" text-anchor="middle">200</text><text transform="translate(300.39,266.7) scale(0.94,1)" text-anchor="middle">250</text><text transform="translate(349.58,266.7) scale(0.94,1)" text-anchor="middle">300</text><text transform="translate(47,258.80) scale(0.94,1)" text-anchor="end">0</text><text transform="translate(47,175.13) scale(0.94,1)" text-anchor="end">0.005</text><text transform="translate(47,91.47) scale(0.94,1)" text-anchor="end">0.01</text><text transform="translate(47,7.80) scale(0.94,1)" text-anchor="end">0.015</text></g><text x="202" y="277.6" text-anchor="middle" font-family='"Liberation Sans", sans-serif' font-size="11.2" stroke="#000" stroke-width="0.22">T (K)</text><text transform="translate(12.3,177.9) rotate(-90)" font-family='"Liberation Sans", sans-serif' font-size="11.2" stroke="#000" stroke-width="0.22"><tspan font-family='"Liberation Serif", serif' font-style="italic" font-size="12" stroke-width="0.1">χ</tspan><tspan font-size="8.7" dy="4.3" dx="-0.2">m</tspan><tspan dy="-4.3"> (emu mol</tspan><tspan font-size="8.7" dy="-6">−1</tspan><tspan dy="6"> Ti</tspan><tspan font-size="8.7" dy="-6">3</tspan><tspan font-size="8.7" dy="1.4" dx="-0.2">+</tspan><tspan dy="4.6">)</tspan></text><path d="M177,159.4 H192" stroke="#000" stroke-width="0.8" stroke-dasharray="5,5"/><text x="197.3" y="162.9" font-family='"Liberation Sans", sans-serif' font-size="11.2" stroke="#000" stroke-width="0.22">Curie<tspan dy="0.8">−</tspan><tspan dy="-0.8">Weiss</tspan></text><path d="M177,176 H192" stroke="#ff0000" stroke-width="1.6" stroke-dasharray="5,5"/><text x="197.3" y="179.5" font-family='"Liberation Sans", sans-serif' font-size="11.2" stroke="#000" stroke-width="0.22">AQHC, J = 15.9 K</text><path d="M177,192.6 H192" stroke="#00c800" stroke-width="1.6"/><text x="197.3" y="196.1" font-family='"Liberation Sans", sans-serif' font-size="11.2" stroke="#000" stroke-width="0.22">QHAT, J = 15.2 K, J / J’ = 7</text><rect x="201.5" y="21.5" width="127" height="102" fill="#fff" stroke="none"/><g fill="none" stroke="#2626ff" stroke-width="0.75"><circle cx="204.32" cy="120.53" r="2.45"/><circle cx="207.85" cy="118.03" r="2.45"/><circle cx="211.38" cy="111.80" r="2.45"/><circle cx="214.91" cy="103.38" r="2.45"/><circle cx="218.43" cy="93.78" r="2.45"/><circle cx="221.96" cy="83.70" r="2.45"/><circle cx="225.49" cy="73.69" r="2.45"/><circle cx="229.02" cy="64.16" r="2.45"/><circle cx="232.54" cy="55.46" r="2.45"/><circle cx="236.07" cy="47.85" r="2.45"/><circle cx="239.60" cy="41.50" r="2.45"/><circle cx="243.13" cy="36.49" r="2.45"/><circle cx="246.66" cy="32.79" r="2.45"/><circle cx="250.18" cy="30.39" r="2.45"/><circle cx="253.71" cy="29.20" r="2.45"/><circle cx="257.24" cy="29.17" r="2.45"/><circle cx="260.77" cy="30.21" r="2.45"/><circle cx="264.29" cy="32.22" r="2.45"/><circle cx="267.82" cy="35.10" r="2.45"/><circle cx="271.35" cy="38.76" r="2.45"/><circle cx="274.88" cy="43.10" r="2.45"/><circle cx="278.41" cy="48.00" r="2.45"/><circle cx="281.93" cy="53.34" r="2.45"/><circle cx="285.46" cy="58.99" r="2.45"/><circle cx="288.99" cy="64.87" r="2.45"/><circle cx="292.52" cy="70.87" r="2.45"/><circle cx="296.04" cy="76.98" r="2.45"/><circle cx="299.57" cy="83.18" r="2.45"/><circle cx="303.10" cy="89.47" r="2.45"/><circle cx="306.63" cy="95.84" r="2.45"/><circle cx="310.16" cy="102.29" r="2.45"/><circle cx="313.68" cy="108.80" r="2.45"/><circle cx="317.21" cy="115.38" r="2.45"/><circle cx="320.74" cy="122.02" r="2.45"/></g><g clip-path="url(#ci)"><path d="M236.07,45.01 L236.40,44.49 L236.74,43.98 L237.07,43.47 L237.40,42.98 L237.74,42.49 L238.07,42.01 L238.40,41.54 L238.73,41.08 L239.07,40.63 L239.40,40.19 L239.73,39.76 L240.06,39.34 L240.40,38.93 L240.73,38.52 L241.06,38.13 L241.40,37.74 L241.73,37.37 L242.06,37.00 L242.39,36.65 L242.73,36.30 L243.06,35.96 L243.39,35.63 L243.72,35.32 L244.06,35.01 L244.39,34.71 L244.72,34.42 L245.06,34.14 L245.39,33.87 L245.72,33.61 L246.05,33.35 L246.39,33.11 L246.72,32.88 L247.05,32.66 L247.38,32.44 L247.72,32.24 L248.05,32.04 L248.38,31.86 L248.72,31.68 L249.05,31.51 L249.38,31.36 L249.71,31.21 L250.05,31.07 L250.38,30.94 L250.71,30.82 L251.04,30.70 L251.38,30.60 L251.71,30.51 L252.04,30.42 L252.38,30.35 L252.71,30.28 L253.04,30.22 L253.37,30.17 L253.71,30.13 L254.04,30.10 L254.37,30.08 L254.70,30.07 L255.04,30.06 L255.37,30.06 L255.70,30.08 L256.04,30.10 L256.37,30.12 L256.70,30.16 L257.03,30.21 L257.37,30.26 L257.70,30.32 L258.03,30.39 L258.36,30.47 L258.70,30.55 L259.03,30.65 L259.36,30.75 L259.70,30.86 L260.03,30.97 L260.36,31.10 L260.69,31.23 L261.03,31.37 L261.36,31.52 L261.69,31.67 L262.02,31.83 L262.36,32.00 L262.69,32.18 L263.02,32.36 L263.36,32.55 L263.69,32.75 L264.02,32.96 L264.35,33.17 L264.69,33.39 L265.02,33.61 L265.35,33.84 L265.68,34.08 L266.02,34.33 L266.35,34.58 L266.68,34.84 L267.02,35.10 L267.35,35.37 L267.68,35.65 L268.01,35.93 L268.35,36.22 L268.68,36.52 L269.01,36.82 L269.34,37.13 L269.68,37.44 L270.01,37.76 L270.34,38.09 L270.68,38.42 L271.01,38.75 L271.34,39.09 L271.67,39.44 L272.01,39.80 L272.34,40.15 L272.67,40.52 L273.00,40.89 L273.34,41.26 L273.67,41.64 L274.00,42.02 L274.34,42.41 L274.67,42.81 L275.00,43.20 L275.33,43.61 L275.67,44.02 L276.00,44.43 L276.33,44.85 L276.66,45.27 L277.00,45.70 L277.33,46.13 L277.66,46.56 L277.99,47.00 L278.33,47.45 L278.66,47.89 L278.99,48.35 L279.33,48.80 L279.66,49.26 L279.99,49.73 L280.32,50.20 L280.66,50.67 L280.99,51.14 L281.32,51.62 L281.65,52.11 L281.99,52.59 L282.32,53.09 L282.65,53.58 L282.99,54.08 L283.32,54.58 L283.65,55.08 L283.98,55.59 L284.32,56.10 L284.65,56.62 L284.98,57.13 L285.31,57.65 L285.65,58.18 L285.98,58.70 L286.31,59.23 L286.65,59.77 L286.98,60.30 L287.31,60.84 L287.64,61.38 L287.98,61.92 L288.31,62.47 L288.64,63.02 L288.97,63.57 L289.31,64.13 L289.64,64.68 L289.97,65.24 L290.31,65.80 L290.64,66.37 L290.97,66.93 L291.30,67.50 L291.64,68.07 L291.97,68.64 L292.30,69.22 L292.63,69.80 L292.97,70.38 L293.30,70.96 L293.63,71.54 L293.97,72.13 L294.30,72.71 L294.63,73.30 L294.96,73.89 L295.30,74.48 L295.63,75.08 L295.96,75.68 L296.29,76.27 L296.63,76.87 L296.96,77.47 L297.29,78.08 L297.63,78.68 L297.96,79.28 L298.29,79.89 L298.62,80.50 L298.96,81.11 L299.29,81.72 L299.62,82.33 L299.95,82.95 L300.29,83.56 L300.62,84.18 L300.95,84.80 L301.29,85.41 L301.62,86.03 L301.95,86.66 L302.28,87.28 L302.62,87.90 L302.95,88.52 L303.28,89.15 L303.61,89.78 L303.95,90.40 L304.28,91.03 L304.61,91.66 L304.95,92.29 L305.28,92.92 L305.61,93.55 L305.94,94.18 L306.28,94.81 L306.61,95.45 L306.94,96.08 L307.27,96.72 L307.61,97.35 L307.94,97.99 L308.27,98.62 L308.61,99.26 L308.94,99.90 L309.27,100.54 L309.60,101.17 L309.94,101.81 L310.27,102.45 L310.60,103.09 L310.93,103.73 L311.27,104.37 L311.60,105.01 L311.93,105.66 L312.27,106.30 L312.60,106.94 L312.93,107.58 L313.26,108.22 L313.60,108.87 L313.93,109.51 L314.26,110.15 L314.59,110.79 L314.93,111.44 L315.26,112.08 L315.59,112.72 L315.93,113.37 L316.26,114.01 L316.59,114.65 L316.92,115.30 L317.26,115.94 L317.59,116.58 L317.92,117.23 L318.25,117.87 L318.59,118.51 L318.92,119.15 L319.25,119.80 L319.58,120.44 L319.92,121.08 L320.25,121.72 L320.58,122.36 L320.92,123.00 L321.25,123.64 L321.58,124.29 L321.91,124.93 L322.25,125.57 L322.58,126.20 L322.91,126.84 L323.24,127.48 L323.58,128.12 L323.91,128.76 L324.24,129.40 L324.58,130.03 L324.91,130.67 L325.24,131.31 L325.57,131.94 L325.91,132.58 L326.24,133.21 L326.57,133.85 L326.90,134.48 L327.24,135.12 L327.57,135.75 L327.90,136.38 L328.24,137.01 L328.57,137.64 L328.90,138.27 L329.23,138.90 L329.57,139.53 L329.90,140.16 L330.23,140.79 L330.56,141.42 L330.90,142.05 L331.23,142.67 L331.56,143.30 L331.90,143.92 L332.23,144.55 L332.56,145.17 L332.89,145.79 L333.23,146.42 L333.56,147.04 L333.89,147.66 L334.22,148.28 L334.56,148.90 L334.89,149.52 L335.22,150.14 L335.56,150.75" fill="none" stroke="#00c800" stroke-width="1.7"/><path d="M197.97,108.85 L198.43,111.27 L198.89,113.34 L199.35,115.11 L199.81,116.60 L200.27,117.84 L200.73,118.86 L201.19,119.68 L201.65,120.32 L202.11,120.79 L202.57,121.12 L203.03,121.31 L203.49,121.38 L203.95,121.33 L204.41,121.18 L204.87,120.93 L205.33,120.59 L205.79,120.17 L206.25,119.68 L206.71,119.12 L207.18,118.49 L207.64,117.81 L208.10,117.07 L208.56,116.28 L209.02,115.44 L209.48,114.56 L209.94,113.65 L210.40,112.69 L210.86,111.70 L211.32,110.68 L211.78,109.63 L212.24,108.56 L212.70,107.46 L213.16,106.35 L213.62,105.21 L214.08,104.05 L214.54,102.88 L215.00,101.70 L215.46,100.50 L215.92,99.29 L216.38,98.07 L216.84,96.85 L217.30,95.61 L217.76,94.38 L218.22,93.13 L218.68,91.89 L219.14,90.64 L219.60,89.40 L220.06,88.15 L220.52,86.90 L220.98,85.66 L221.44,84.42 L221.90,83.18 L222.36,81.95 L222.82,80.72 L223.28,79.50 L223.74,78.29 L224.20,77.08 L224.66,75.88 L225.12,74.70 L225.58,73.52 L226.04,72.35 L226.50,71.19 L226.96,70.04 L227.42,68.91 L227.88,67.79 L228.34,66.68 L228.80,65.58 L229.26,64.50 L229.72,63.43 L230.18,62.38 L230.64,61.34 L231.10,60.31 L231.56,59.31 L232.02,58.31 L232.48,57.34 L232.94,56.38 L233.40,55.43 L233.86,54.51 L234.32,53.60 L234.78,52.70 L235.24,51.83 L235.70,50.97 L236.16,50.13 L236.62,49.31 L237.08,48.51 L237.54,47.73 L238.00,46.96 L238.46,46.21 L238.93,45.49 L239.39,44.78 L239.85,44.09 L240.31,43.41 L240.77,42.76 L241.23,42.13 L241.69,41.52 L242.15,40.92 L242.61,40.34 L243.07,39.79 L243.53,39.25 L243.99,38.73 L244.45,38.23 L244.91,37.75 L245.37,37.29 L245.83,36.85 L246.29,36.43 L246.75,36.02 L247.21,35.64 L247.67,35.27 L248.13,34.93 L248.59,34.60 L249.05,34.29 L249.51,34.00 L249.97,33.72 L250.43,33.47 L250.89,33.23 L251.35,33.01 L251.81,32.81 L252.27,32.63 L252.73,32.47 L253.19,32.32 L253.65,32.19 L254.11,32.08 L254.57,31.98 L255.03,31.90 L255.49,31.84 L255.95,31.80 L256.41,31.77 L256.87,31.76 L257.33,31.76 L257.79,31.79 L258.25,31.82 L258.71,31.88 L259.17,31.95 L259.63,32.03 L260.09,32.13 L260.55,32.25 L261.01,32.38 L261.47,32.52 L261.93,32.68 L262.39,32.85 L262.85,33.04 L263.31,33.24 L263.77,33.46 L264.23,33.69 L264.69,33.93 L265.15,34.19 L265.61,34.46 L266.07,34.75 L266.53,35.04 L266.99,35.35 L267.45,35.67 L267.91,36.01 L268.37,36.36 L268.83,36.71 L269.29,37.08 L269.75,37.47 L270.21,37.86 L270.68,38.26 L271.14,38.68 L271.60,39.11 L272.06,39.55 L272.52,39.99 L272.98,40.45 L273.44,40.92 L273.90,41.40 L274.36,41.89 L274.82,42.39 L275.28,42.90 L275.74,43.42 L276.20,43.94 L276.66,44.48 L277.12,45.03 L277.58,45.58 L278.04,46.14 L278.50,46.72 L278.96,47.30 L279.42,47.88 L279.88,48.48 L280.34,49.08 L280.80,49.70 L281.26,50.31 L281.72,50.94 L282.18,51.58 L282.64,52.22 L283.10,52.86 L283.56,53.52 L284.02,54.18 L284.48,54.85 L284.94,55.52 L285.40,56.21 L285.86,56.89 L286.32,57.59 L286.78,58.29 L287.24,58.99 L287.70,59.70 L288.16,60.42 L288.62,61.14 L289.08,61.86 L289.54,62.60 L290.00,63.33 L290.46,64.07 L290.92,64.82 L291.38,65.57 L291.84,66.33 L292.30,67.09 L292.76,67.85 L293.22,68.62 L293.68,69.39 L294.14,70.17 L294.60,70.95 L295.06,71.74 L295.52,72.52 L295.98,73.32 L296.44,74.11 L296.90,74.91 L297.36,75.71 L297.82,76.52 L298.28,77.32 L298.74,78.13 L299.20,78.95 L299.66,79.77 L300.12,80.59 L300.58,81.41 L301.04,82.23 L301.50,83.06 L301.96,83.89 L302.43,84.72 L302.89,85.55 L303.35,86.39 L303.81,87.23 L304.27,88.07 L304.73,88.91 L305.19,89.75 L305.65,90.60 L306.11,91.45 L306.57,92.30 L307.03,93.15 L307.49,94.00 L307.95,94.85 L308.41,95.71 L308.87,96.56 L309.33,97.42 L309.79,98.28 L310.25,99.14 L310.71,100.00 L311.17,100.86 L311.63,101.72 L312.09,102.58 L312.55,103.45 L313.01,104.31 L313.47,105.18 L313.93,106.04 L314.39,106.91 L314.85,107.77 L315.31,108.64 L315.77,109.51 L316.23,110.38 L316.69,111.25 L317.15,112.11 L317.61,112.98 L318.07,113.85 L318.53,114.72 L318.99,115.59 L319.45,116.46 L319.91,117.33 L320.37,118.20 L320.83,119.07 L321.29,119.93 L321.75,120.80 L322.21,121.67 L322.67,122.54 L323.13,123.41 L323.59,124.27 L324.05,125.14 L324.51,126.01 L324.97,126.87 L325.43,127.74 L325.89,128.61 L326.35,129.47 L326.81,130.33 L327.27,131.20 L327.73,132.06 L328.19,132.92 L328.65,133.78 L329.11,134.65 L329.57,135.51 L330.03,136.36 L330.49,137.22 L330.95,138.08 L331.41,138.94 L331.87,139.79 L332.33,140.65 L332.79,141.50 L333.25,142.36 L333.71,143.21 L334.18,144.06 L334.64,144.91 L335.10,145.76 L335.56,146.61" fill="none" stroke="#ff0000" stroke-width="2.0" stroke-dasharray="5,5"/></g><g stroke="#999" stroke-width="1" fill="none"><rect x="201.5" y="21.5" width="127" height="102"/><path d="M222.5,123.5 V121.5 M222.5,21.5 V23.5"/><path d="M257.5,123.5 V121.5 M257.5,21.5 V23.5"/><path d="M293.5,123.5 V121.5 M293.5,21.5 V23.5"/><path d="M328.5,123.5 V121.5 M328.5,21.5 V23.5"/><path d="M201.5,123.5 H203.5 M328.5,123.5 H326.5"/><path d="M201.5,97.5 H203.5 M328.5,97.5 H326.5"/><path d="M201.5,72.5 H203.5 M328.5,72.5 H326.5"/><path d="M201.5,46.5 H203.5 M328.5,46.5 H326.5"/><path d="M201.5,21.5 H203.5 M328.5,21.5 H326.5"/></g><g font-family='"Liberation Sans", sans-serif' font-size="8.7" fill="#000" stroke="#000" stroke-width="0.15"><text x="222.7" y="134.2" text-anchor="middle">5</text><text x="257.9" y="134.2" text-anchor="middle">10</text><text x="293.2" y="134.2" text-anchor="middle">15</text><text x="328.5" y="134.2" text-anchor="middle">20</text><text x="198.2" y="126.6" text-anchor="end">0.011</text><text x="198.2" y="101.1" text-anchor="end">0.0115</text><text x="198.2" y="75.6" text-anchor="end">0.012</text><text x="198.2" y="50.1" text-anchor="end">0.0125</text><text x="198.2" y="24.6" text-anchor="end">0.013</text></g><text x="265" y="145.5" text-anchor="middle" font-family='"Liberation Sans", sans-serif' font-size="11.2" stroke="#000" stroke-width="0.22">T</text><text transform="translate(161.3,78.3) rotate(-90)" font-family='"Liberation Sans", sans-serif' font-size="11.2" stroke="#000" stroke-width="0.22"><tspan font-family='"Liberation Serif", serif' font-style="italic" font-size="12" stroke-width="0.1">χ</tspan><tspan font-size="8.7" dy="4.3" dx="-0.2">m</tspan></text></svg></body></html>
